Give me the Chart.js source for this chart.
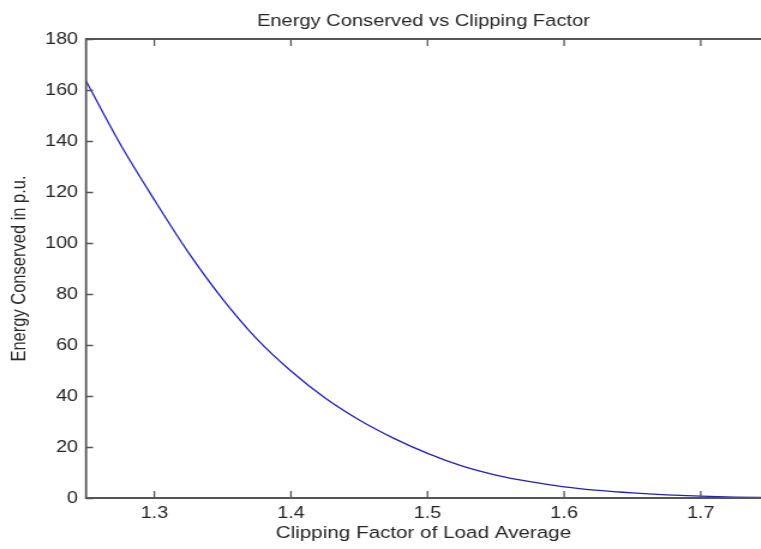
<!DOCTYPE html>
<html>
<head>
<meta charset="utf-8">
<script src="https://cdn.jsdelivr.net/npm/chart.js@4"></script>
<style>
    html, body { margin: 0; padding: 0; background: #fff; overflow: hidden; }
    /* the original figure is stretched horizontally, so stretch the canvas the same way */
    #energyChart { display: block; transform: scaleX(1.2); transform-origin: 0 0; }
</style>
</head>
<body>
<canvas id="energyChart" width="634" height="549"></canvas>
<script>
// clipping factor (x) and energy conserved in p.u. (y)
const clipFactors = [1.25, 1.275, 1.30, 1.325, 1.35, 1.375, 1.40, 1.425, 1.45, 1.475,
    1.50, 1.525, 1.55, 1.575, 1.60, 1.625, 1.65, 1.675, 1.70, 1.725, 1.75];
const energyConserved = [163.5, 138.8, 116.9, 96.2, 78.0, 62.4, 49.8, 39.2, 30.6, 23.5,
    17.5, 12.6, 9.0, 6.4, 4.4, 3.0, 2.0, 1.25, 0.7, 0.35, 0.15];

const xTicks = [1.3, 1.4, 1.5, 1.6, 1.7];
const yTicks = [0, 20, 40, 60, 80, 100, 120, 140, 160, 180];
// the original picture is cut off on the right, a little before 1.75
const xMin = 1.25;
const xMax = 1.744;

const textColor = '#262626';
const axisColor = '#555555';
const fontFamily = '"Liberation Sans", Arial, sans-serif';

// MATLAB style: box around the axes and ticks pointing inward
const matlabBox = {
    id: 'matlabBox',
    afterDraw(chart) {
        const { ctx, chartArea: a, scales } = chart;
        const len = 7;
        ctx.save();
        ctx.strokeStyle = axisColor;
        ctx.lineWidth = 1.8;
        ctx.beginPath();
        ctx.moveTo(a.right + 2, a.top);
        ctx.lineTo(a.left, a.top);
        ctx.lineTo(a.left, a.bottom);
        ctx.lineTo(a.right + 2, a.bottom);
        ctx.stroke();
        ctx.lineWidth = 1.3;
        ctx.beginPath();
        xTicks.forEach(v => {
            const px = scales.x.getPixelForValue(v);
            ctx.moveTo(px, a.bottom); ctx.lineTo(px, a.bottom - len);
            ctx.moveTo(px, a.top); ctx.lineTo(px, a.top + len);
        });
        yTicks.forEach(v => {
            const py = Math.round(scales.y.getPixelForValue(v)) + 0.5;
            ctx.moveTo(a.left, py); ctx.lineTo(a.left + len / 1.2, py);
        });
        ctx.stroke();
        ctx.restore();
    }
};

const ctx = document.getElementById('energyChart').getContext('2d');
new Chart(ctx, {
    type: 'line',
    data: {
        datasets: [{
            label: 'Energy Conserved',
            data: clipFactors.map((x, i) => ({ x: x, y: energyConserved[i] })),
            borderColor: '#2020b8',
            borderWidth: 1.3,
            pointRadius: 0,
            fill: false,
            cubicInterpolationMode: 'monotone'
        }]
    },
    options: {
        responsive: false,
        animation: false,
        layout: { padding: 0 },
        plugins: {
            legend: { display: false },
            tooltip: { enabled: false },
            title: {
                display: true,
                text: 'Energy Conserved vs Clipping Factor',
                color: textColor,
                fullSize: false,
                font: { family: fontFamily, size: 16.75, weight: 'normal' },
                padding: { top: 11.5, bottom: 7.4 }
            }
        },
        scales: {
            x: {
                type: 'linear',
                min: xMin,
                max: xMax,
                afterBuildTicks: s => { s.ticks = xTicks.map(v => ({ value: v })); },
                afterFit: s => { s.height = 51; },
                grid: { drawOnChartArea: false, drawTicks: false },
                border: { display: false },
                ticks: {
                    color: textColor,
                    padding: 6,
                    maxRotation: 0,
                    font: { family: fontFamily, size: 16.5 },
                    callback: v => v.toFixed(1)
                },
                title: {
                    display: true,
                    text: 'Clipping Factor of Load Average',
                    color: textColor,
                    font: { family: fontFamily, size: 17.2 },
                    padding: { top: 0, bottom: 5.5 }
                }
            },
            y: {
                min: 0,
                max: 180,
                afterBuildTicks: s => { s.ticks = yTicks.map(v => ({ value: v })); },
                afterFit: s => { s.width = 71.7; },
                grid: { drawOnChartArea: false, drawTicks: false },
                border: { display: false },
                ticks: {
                    color: textColor,
                    padding: 6.7,
                    font: { family: fontFamily, size: 16.5 }
                },
                title: {
                    display: true,
                    text: 'Energy Conserved in p.u.',
                    color: textColor,
                    font: { family: fontFamily, size: 16.5 },
                    padding: { top: 7, bottom: 0 }
                }
            }
        }
    },
    plugins: [matlabBox]
});
</script>
</body>
</html>
